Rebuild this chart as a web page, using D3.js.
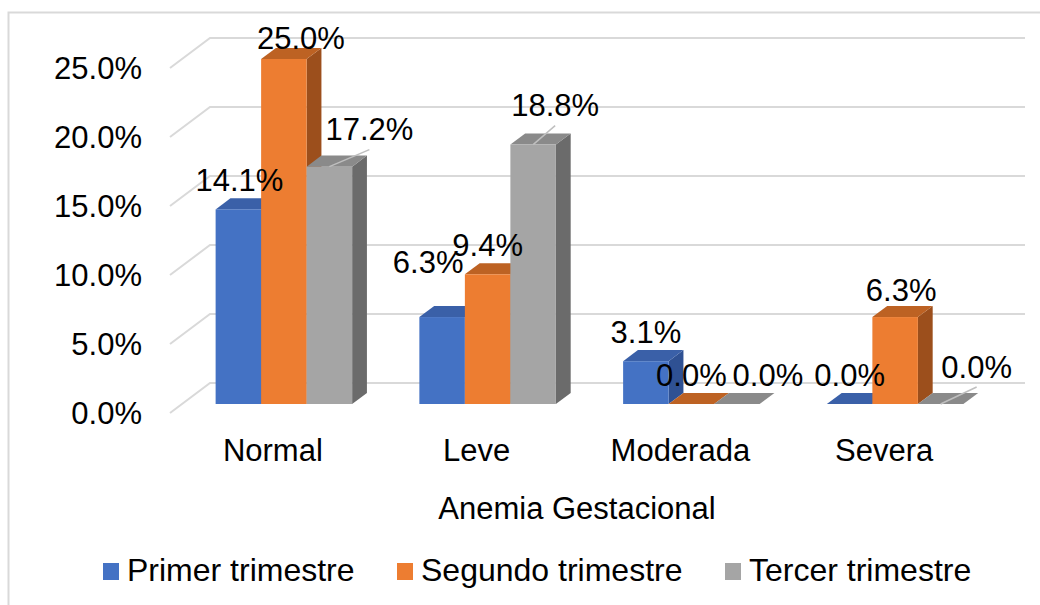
<!doctype html>

<html>
	<head>
		<title>Anemia Gestacional</title>
		<meta charset="UTF-8">
		<meta name="viewport" content="initial-scale=1.0">
		<script src="https://d3js.org/d3.v7.min.js"></script>
		<style>
			body { margin: 0; background: #fff; }
			text { font-family: "Liberation Sans", Arial, sans-serif; fill: #000; }
		</style>
	</head>

	<body>
        <script>
            // data
            var categories = ["Normal", "Leve", "Moderada", "Severa"];
            var seriesNames = ["Primer trimestre", "Segundo trimestre", "Tercer trimestre"];
            var primer  = [14.1, 6.3, 3.1, 0.0];
            var segundo = [25.0, 9.4, 0.0, 6.3];
            var tercer  = [17.2, 18.8, 0.0, 0.0];
            var yTicks  = [0, 5, 10, 15, 20, 25];

            var allSeries = [primer, segundo, tercer];
            var front  = ["#4472C4", "#ED7D31", "#A5A5A5"];
            var top_   = ["#3a60a8", "#bd6223", "#8a8a8a"];
            var side   = ["#2f5193", "#9c4f1c", "#6b6b6b"];

            // label nudges (dx, dy, leader) per series / category, Excel moved some of them
            var nudge = [
              [[1, 0, 0], [-14, -26, 0], [0, 0, 0], [0, 0, 0]],
              [[17, 8, 0], [0, 0, 0], [0, 0, 0], [6, 2, 0]],
              [[40, -8, 1], [22, -10, 1], [31, 0, 0], [36, -8, 1]]
            ];

            var W = 1040, H = 605;
            var svg = d3.select("body").append("svg")
                .attr("width", W).attr("height", H);

            svg.append("rect")
              .attr("width", W).attr("height", H).attr("fill", "white");

            // chart frame
            svg.append("rect")
              .attr("x", 8.5).attr("y", 12.5)
              .attr("width", 1200).attr("height", 800)
              .attr("fill", "none").attr("stroke", "#d9d9d9").attr("stroke-width", 2);

            //--------------------------------
            var DX = 40, DY = 30;       // full depth of the 3d box
            var zFront = 0.3, zBack = 0.67;

            var y = d3.scaleLinear().domain([0, 25]).range([413, 68]);
            var x0 = d3.scaleBand().domain(categories).range([170, 985])
                .paddingInner(0.33).paddingOuter(0.165);
            var x1 = d3.scaleBand().domain(d3.range(3)).range([0, x0.bandwidth()]);

            function px(x, z) { return x + DX * z; }
            function py(yy, z) { return yy - DY * z; }

            // gridlines: left wall diagonal + back wall
            var grid = svg.append("g");
            yTicks.forEach(function(t){
              var yy = y(t);
              grid.append("path")
                .attr("d", "M" + px(x0.range()[0], 0) + "," + yy +
                           "L" + px(x0.range()[0], 1) + "," + py(yy, 1) +
                           "L" + px(x0.range()[1], 1) + "," + py(yy, 1))
                .attr("fill", "none").attr("stroke", "#d9d9d9").attr("stroke-width", 2);
            });

            // y axis labels
            svg.append("g").selectAll("text").data(yTicks).enter().append("text")
              .attr("x", 142).attr("y", function(d){ return y(d); })
              .attr("dy", "0.35em")
              .attr("text-anchor", "end")
              .style("font-size", "31px")
              .text(function(d){ return d3.format(".1f")(d) + "%"; });

            // bars
            var bars = svg.append("g");
            var labels = [];
            categories.forEach(function(c, ci){
              allSeries.forEach(function(s, si){
                var v = s[ci];
                var xl = x0(c) + x1(si), xr = xl + x1.bandwidth();
                var yt = y(v), yb = y(0);
                var fl = px(xl, zFront), fr = px(xr, zFront);
                var ft = py(yt, zFront), fb = py(yb, zFront);
                var bl = px(xl, zBack), br = px(xr, zBack);
                var bt = py(yt, zBack), bb = py(yb, zBack);
                // side face
                bars.append("path")
                  .attr("d", "M" + fr + "," + ft + "L" + br + "," + bt + "L" + br + "," + bb + "L" + fr + "," + fb + "Z")
                  .attr("fill", side[si]);
                // top face
                bars.append("path")
                  .attr("d", "M" + fl + "," + ft + "L" + fr + "," + ft + "L" + br + "," + bt + "L" + bl + "," + bt + "Z")
                  .attr("fill", top_[si]);
                // front face
                bars.append("rect")
                  .attr("x", fl).attr("y", ft)
                  .attr("width", fr - fl).attr("height", fb - ft)
                  .attr("fill", front[si]);
                var n = nudge[si][ci];
                labels.push({ v: v, bx: (fl + fr) / 2, by: ft,
                              lx: (fl + fr) / 2 + n[0], ly: ft - 29 + n[1], leader: n[2] });
              });
            });

            // data labels
            var lab = svg.append("g");
            labels.forEach(function(d){
              if (d.leader) {
                lab.append("line")
                  .attr("x1", d.bx).attr("y1", d.by)
                  .attr("x2", d.lx).attr("y2", d.ly + 20)
                  .attr("stroke", "#bfbfbf").attr("stroke-width", 1.5);
              }
              lab.append("text")
                .attr("x", d.lx).attr("y", d.ly)
                .attr("dy", "0.35em")
                .attr("text-anchor", "middle")
                .style("font-size", "31px")
                .text(d3.format(".1f")(d.v) + "%");
            });

            // category labels
            svg.append("g").selectAll("text").data(categories).enter().append("text")
              .attr("x", function(d){ return x0(d) + x0.bandwidth() / 2 + 1; })
              .attr("y", 461)
              .attr("text-anchor", "middle")
              .style("font-size", "31px")
              .text(function(d){ return d; });

            // axis title
            svg.append("text")
              .attr("x", 577).attr("y", 519)
              .attr("text-anchor", "middle")
              .style("font-size", "31px")
              .text("Anemia Gestacional");

            // legend
            var legX = [103, 397, 725];
            var leg = svg.append("g");
            seriesNames.forEach(function(s, i){
              leg.append("rect")
                .attr("x", legX[i]).attr("y", 563)
                .attr("width", 16).attr("height", 17)
                .attr("fill", front[i]);
              leg.append("text")
                .attr("x", legX[i] + 24).attr("y", 581)
                .style("font-size", "32px")
                .text(s);
            });
        </script>
	</body>
</html>
